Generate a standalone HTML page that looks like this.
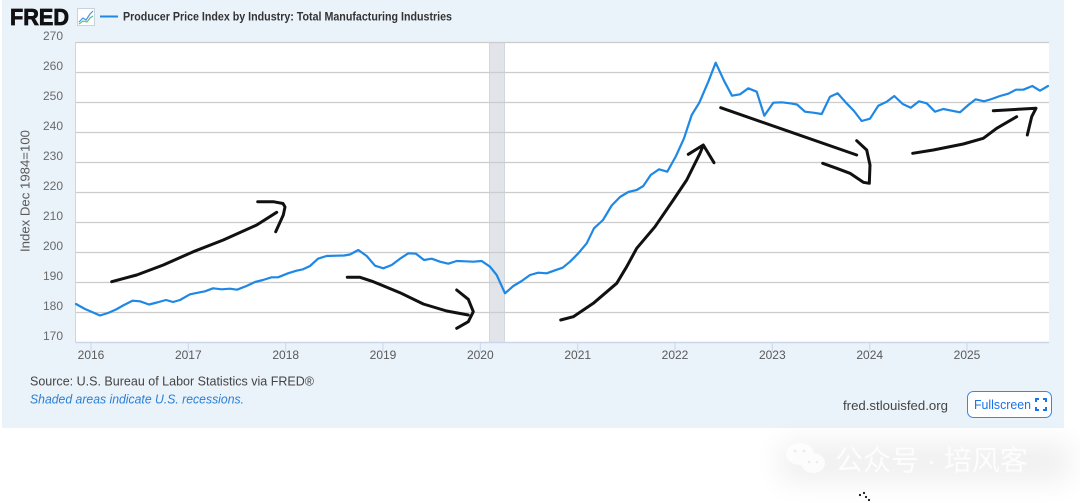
<!DOCTYPE html>
<html><head><meta charset="utf-8"><style>
html,body{margin:0;padding:0;background:#fff;}
svg{display:block;}
</style></head><body>
<svg width="1080" height="503" viewBox="0 0 1080 503" xmlns="http://www.w3.org/2000/svg">
<defs>
<filter id="bl" x="-50%" y="-150%" width="200%" height="400%"><feGaussianBlur stdDeviation="14"/></filter>
</defs>
<rect x="0" y="0" width="1080" height="503" fill="#ffffff"/>
<rect x="2" y="0" width="1062" height="428" fill="#eaf2fa"/>

<!-- header -->
<text x="10" y="25" font-family="Liberation Sans, sans-serif" font-weight="bold" font-size="23" fill="#111" stroke="#111" stroke-width="0.8" textLength="59" lengthAdjust="spacingAndGlyphs">FRED</text>
<rect x="77.5" y="8.5" width="17" height="17" fill="#fff" stroke="#c9d3dd" stroke-width="1"/>
<polyline points="79,22 83,18 86,20 90,14 93,11" fill="none" stroke="#4a90e2" stroke-width="1.2"/>
<polyline points="79,24 83,21 87,22 90,18 93,16" fill="none" stroke="#5cc08a" stroke-width="1.2"/>
<line x1="100" y1="16.5" x2="118" y2="16.5" stroke="#1f88e5" stroke-width="2"/>
<text x="123" y="20.5" font-family="Liberation Sans, sans-serif" font-weight="bold" font-size="11.5" fill="#333" textLength="329" lengthAdjust="spacingAndGlyphs">Producer Price Index by Industry: Total Manufacturing Industries</text>

<!-- plot area -->
<rect x="76" y="42" width="973" height="300" fill="#ffffff"/>
<rect x="489" y="42" width="16" height="300" fill="#e1e5ea"/>
<line x1="489.5" y1="42" x2="489.5" y2="342" stroke="#d3d8de" stroke-width="1"/>
<line x1="504.5" y1="42" x2="504.5" y2="342" stroke="#d3d8de" stroke-width="1"/>
<g stroke="#cccccc" stroke-width="1.2">
<line x1="76" y1="42.5" x2="1049" y2="42.5"/>
<line x1="76" y1="72.5" x2="1049" y2="72.5"/>
<line x1="76" y1="102.5" x2="1049" y2="102.5"/>
<line x1="76" y1="132.5" x2="1049" y2="132.5"/>
<line x1="76" y1="162.5" x2="1049" y2="162.5"/>
<line x1="76" y1="192.5" x2="1049" y2="192.5"/>
<line x1="76" y1="222.5" x2="1049" y2="222.5"/>
<line x1="76" y1="252.5" x2="1049" y2="252.5"/>
<line x1="76" y1="282.5" x2="1049" y2="282.5"/>
<line x1="76" y1="312.5" x2="1049" y2="312.5"/>
</g>
<line x1="75.5" y1="42" x2="75.5" y2="343" stroke="#ccd6eb" stroke-width="1"/>
<line x1="76" y1="342.5" x2="1049" y2="342.5" stroke="#ccd6eb" stroke-width="1.5"/>
<g stroke="#ccd6eb" stroke-width="1">
<line x1="91" y1="343" x2="91" y2="352"/>
<line x1="188.3" y1="343" x2="188.3" y2="352"/>
<line x1="285.7" y1="343" x2="285.7" y2="352"/>
<line x1="383" y1="343" x2="383" y2="352"/>
<line x1="480.3" y1="343" x2="480.3" y2="352"/>
<line x1="577.7" y1="343" x2="577.7" y2="352"/>
<line x1="675" y1="343" x2="675" y2="352"/>
<line x1="772.3" y1="343" x2="772.3" y2="352"/>
<line x1="869.7" y1="343" x2="869.7" y2="352"/>
<line x1="967" y1="343" x2="967" y2="352"/>
</g>

<!-- y tick labels -->
<g font-family="Liberation Sans, sans-serif" font-size="12" fill="#6a6a6a" text-anchor="end">
<text x="63" y="40">270</text>
<text x="63" y="70">260</text>
<text x="63" y="100">250</text>
<text x="63" y="130">240</text>
<text x="63" y="160">230</text>
<text x="63" y="190">220</text>
<text x="63" y="220">210</text>
<text x="63" y="250">200</text>
<text x="63" y="280">190</text>
<text x="63" y="310">180</text>
<text x="63" y="340">170</text>
</g>
<!-- x tick labels -->
<g font-family="Liberation Sans, sans-serif" font-size="12" fill="#5a5a5a" text-anchor="middle">
<text x="91" y="359">2016</text>
<text x="188.3" y="359">2017</text>
<text x="285.7" y="359">2018</text>
<text x="383" y="359">2019</text>
<text x="480.3" y="359">2020</text>
<text x="577.7" y="359">2021</text>
<text x="675" y="359">2022</text>
<text x="772.3" y="359">2023</text>
<text x="869.7" y="359">2024</text>
<text x="967" y="359">2025</text>
</g>
<text transform="translate(29.5,191) rotate(-90)" font-family="Liberation Sans, sans-serif" font-size="13" fill="#5a5a5a" text-anchor="middle" textLength="122" lengthAdjust="spacingAndGlyphs">Index Dec 1984=100</text>

<!-- series -->
<polyline fill="none" stroke="#1f88e5" stroke-width="2.2" stroke-linejoin="round" stroke-linecap="round" points="76,304 85,309 92,312 100,315.5 108,313 116,309.5 124,305 132.5,300.7 140,301.3 149,304.5 157,302.5 166,300 173,302 180,300 190,294.3 198,292.7 205,291.3 213,288.3 221.5,289.3 230,288.7 237,289.7 246.5,286 255,282 263,280 271.5,277.3 278,277.3 288,273.3 296.5,270.7 303,269.3 310,266 318,258.7 326.5,256 336.5,255.7 344,255.5 350,254.5 358.3,250 366.7,256 375,265.7 383.3,268.3 391.7,265 400,258.7 408.3,253.3 416,253.7 424,260 431.7,258.7 440,261.7 448.3,263.7 456.7,261 465,261.3 473.3,261.7 481.7,261 490,266.7 496.7,275 505,293.3 513.3,286 521.7,281 530,275 538.3,272.7 546.7,273.3 555,270.3 562.7,267.7 570,261.7 578.3,253.3 586.7,243.3 594,228.3 603,220 611.7,205.5 620,197 628.3,192 636.7,190 643.3,186 650.7,175 659,169.3 667.3,171.7 676,156 684,138.3 691.7,115 699.3,102.7 708.3,81.7 715.7,62.7 724,80.7 732,95.7 740,94.3 748.3,88.3 756.7,91.7 764.3,115.7 773.3,102.7 781.7,102.3 790,103.3 797,104.5 805,111.7 813.3,112.7 821.7,114 830,96.7 837.7,93.3 846,102.7 854,111 861.7,121 870,118.7 878.3,105.7 886.7,101.7 894.3,96 902.7,104 910.7,107.7 919,101.3 926.7,103.3 935,111.7 943.3,109 951.7,110.7 960,112.3 968.3,105 975.7,99.3 984,101.3 991.7,99 1000,96 1008.3,93.7 1016,89.7 1023.3,89.7 1032.3,86 1040,90.7 1048,86"/>

<!-- hand-drawn annotations -->
<g fill="none" stroke="#111" stroke-width="3" stroke-linecap="round" stroke-linejoin="round">
<polyline points="111.7,281.7 136.7,275 163.3,265 193.3,251.7 223.3,240 256.7,225 276.7,212.3"/>
<polyline points="257.7,201.7 273.3,201.7 283,203.5 285,207 283.3,215 275.7,231.7"/>
<polyline points="347.3,277.3 360,277.3 373.3,281.7 400,292.7 423.3,304 446.7,311 468.3,315"/>
<polyline points="456.7,290 468.3,299.3 473.3,311.7 468.3,321.7 456.7,328.3"/>
<polyline points="560.7,320 573.3,316.7 593.3,303.3 616.7,283.3 626.7,266.7 636.7,248.3 655,226.7 673.3,200 686.7,180 700,153.3 702.7,146.7"/>
<polyline points="688.3,154.3 703.3,145 714,162.7"/>
<polyline points="720.7,107.7 856.7,155"/>
<polyline points="856.7,140.7 866.7,150 870,165 869.3,183.3 863.3,182.3 850,173.3 836.7,168.3 822.7,163.3"/>
<polyline points="912.7,153.3 933.3,150 963.3,144 983.3,138.3 996.7,128.3 1016.7,116.7"/>
<polyline points="993.3,110.7 1036,108.3 1031.7,116.7 1027.3,135"/>
</g>

<!-- footer -->
<text x="30" y="385.5" font-family="Liberation Sans, sans-serif" font-size="12.5" fill="#444" textLength="284" lengthAdjust="spacingAndGlyphs">Source: U.S. Bureau of Labor Statistics via FRED®</text>
<text x="30" y="403.5" font-family="Liberation Sans, sans-serif" font-size="12.5" font-style="italic" fill="#2a7fd4" textLength="214" lengthAdjust="spacingAndGlyphs">Shaded areas indicate U.S. recessions.</text>
<text x="843" y="410" font-family="Liberation Sans, sans-serif" font-size="13" fill="#444" textLength="105" lengthAdjust="spacingAndGlyphs">fred.stlouisfed.org</text>
<rect x="967.5" y="391.5" width="84" height="26" rx="6" fill="#ffffff" stroke="#3b87e0" stroke-width="1"/>
<text x="974" y="409" font-family="Liberation Sans, sans-serif" font-size="13" fill="#1a73e8" textLength="57" lengthAdjust="spacingAndGlyphs">Fullscreen</text>
<g fill="none" stroke="#1a73e8" stroke-width="2">
<polyline points="1036,402 1036,399 1039,399"/>
<polyline points="1043,399 1046,399 1046,402"/>
<polyline points="1036,407 1036,410 1039,410"/>
<polyline points="1043,410 1046,410 1046,407"/>
</g>

<!-- watermark -->
<rect x="780" y="442" width="290" height="40" fill="#000" opacity="0.06" filter="url(#bl)"/>
<g fill="#ffffff" opacity="0.8">
<ellipse cx="800" cy="454" rx="14" ry="11"/>
<ellipse cx="813" cy="463" rx="12" ry="10"/>
</g>
<g fill="#ececec">
<circle cx="795" cy="451" r="1.5"/><circle cx="804" cy="451" r="1.5"/>
<circle cx="809" cy="462" r="1.3"/><circle cx="817" cy="462" r="1.3"/>
</g>
<text x="835" y="470" font-family="Liberation Sans, 'Noto Sans CJK SC', sans-serif" font-size="28" fill="#ffffff" opacity="0.85">公众号 · 培风客</text>
<g fill="#111">
<circle cx="860" cy="495" r="1.1"/><circle cx="864" cy="493" r="1.1"/><circle cx="866" cy="497" r="1.1"/><circle cx="869" cy="500" r="1.1"/>
</g>
</svg>
</body></html>
